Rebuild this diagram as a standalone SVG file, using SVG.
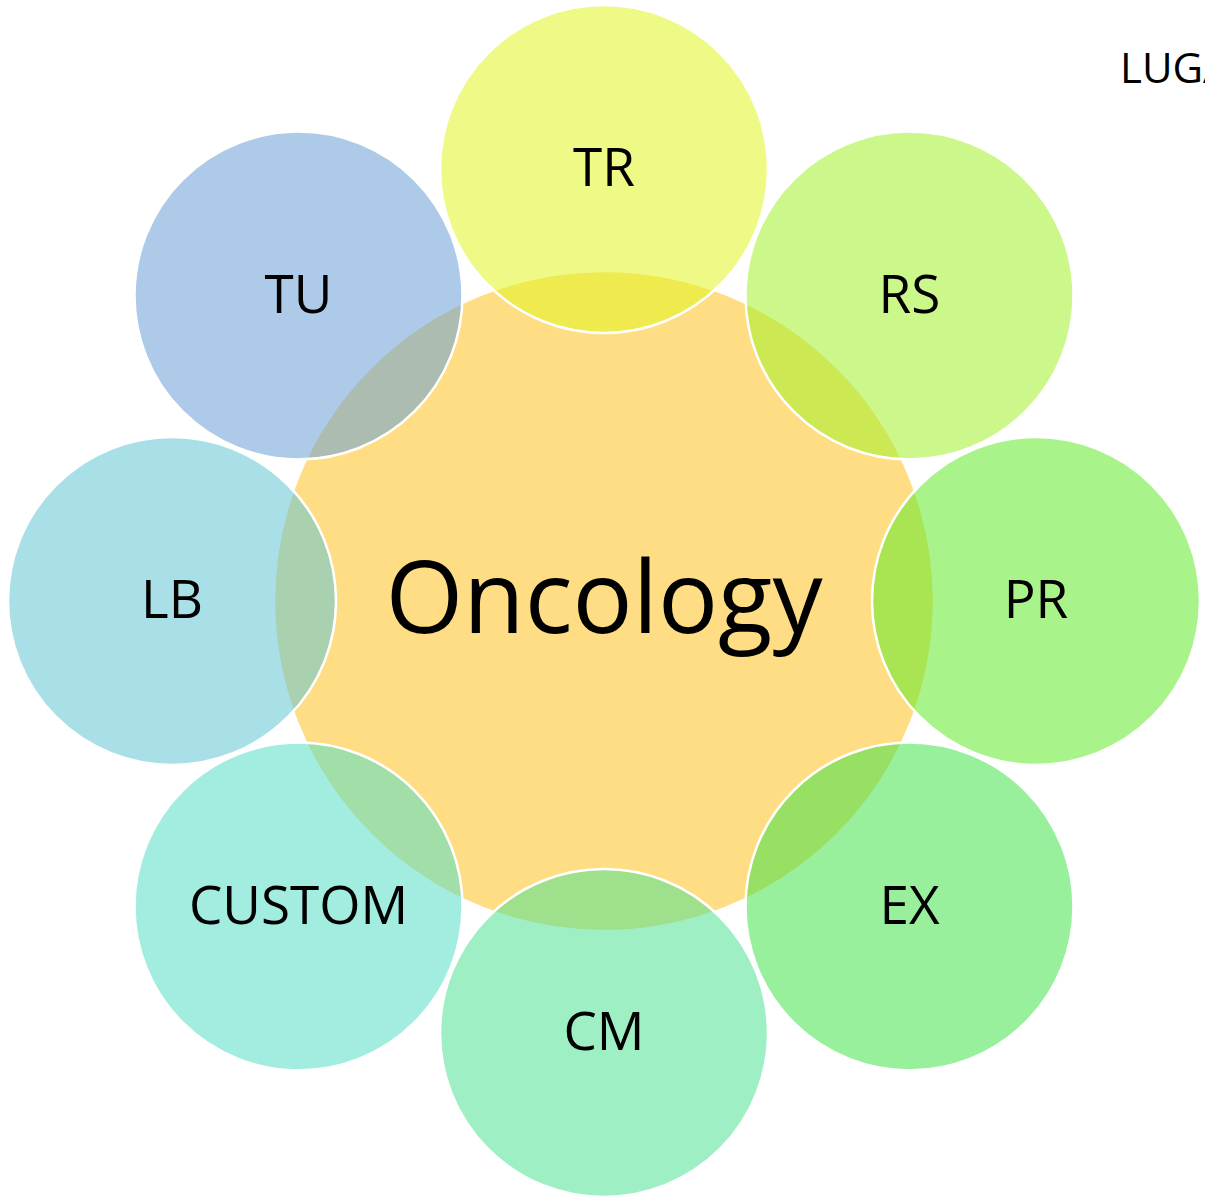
<svg xmlns="http://www.w3.org/2000/svg" width="1205" height="1197" viewBox="0 0 1205 1197">
<style>
.center{fill:#FEDD84;stroke:#FFFFFF;stroke-width:2.5}
.sat{stroke:#FFFFFF;stroke-width:2.5;fill-opacity:0.55}
text{font-family:"Open Sans","Liberation Sans",sans-serif;fill:#000000;text-anchor:middle}
.lbl{font-size:53px}
.big{font-size:100px}
</style>
<rect width="1205" height="1197" fill="#FFFFFF"/>
<g id="connectors"/>
<g id="node-oncology">
<circle class="center" cx="604" cy="601" r="330"/>
<text class="big" x="604" y="633">Oncology</text>
</g>
<g id="node-tr">
<circle class="sat" cx="604" cy="169" r="164" fill="#E2F421"/>
<text class="lbl" x="604" y="186">TR</text>
</g>
<g id="node-rs">
<circle class="sat" cx="909.5" cy="295.5" r="164" fill="#A3F02A"/>
<text class="lbl" x="909.5" y="313">RS</text>
</g>
<g id="node-pr">
<circle class="sat" cx="1036" cy="601" r="164" fill="#63EB2A"/>
<text class="lbl" x="1036" y="618">PR</text>
</g>
<g id="node-ex">
<circle class="sat" cx="909.5" cy="906.5" r="164" fill="#44E24B"/>
<text class="lbl" x="909.5" y="924">EX</text>
</g>
<g id="node-cm">
<circle class="sat" cx="604" cy="1033" r="164" fill="#4FE294"/>
<text class="lbl" x="604" y="1050">CM</text>
</g>
<g id="node-custom">
<circle class="sat" cx="298.5" cy="906.5" r="164" fill="#56DEC5"/>
<text class="lbl" x="298.5" y="924">CUSTOM</text>
</g>
<g id="node-lb">
<circle class="sat" cx="172" cy="601" r="164" fill="#63C7D5"/>
<text class="lbl" x="172" y="618">LB</text>
</g>
<g id="node-tu">
<circle class="sat" cx="298.5" cy="295.5" r="164" fill="#6AA0D5"/>
<text class="lbl" x="298.5" y="313">TU</text>
</g>
<text x="1120" y="83" style="font-size:42px;text-anchor:start">LUGA</text>
</svg>
